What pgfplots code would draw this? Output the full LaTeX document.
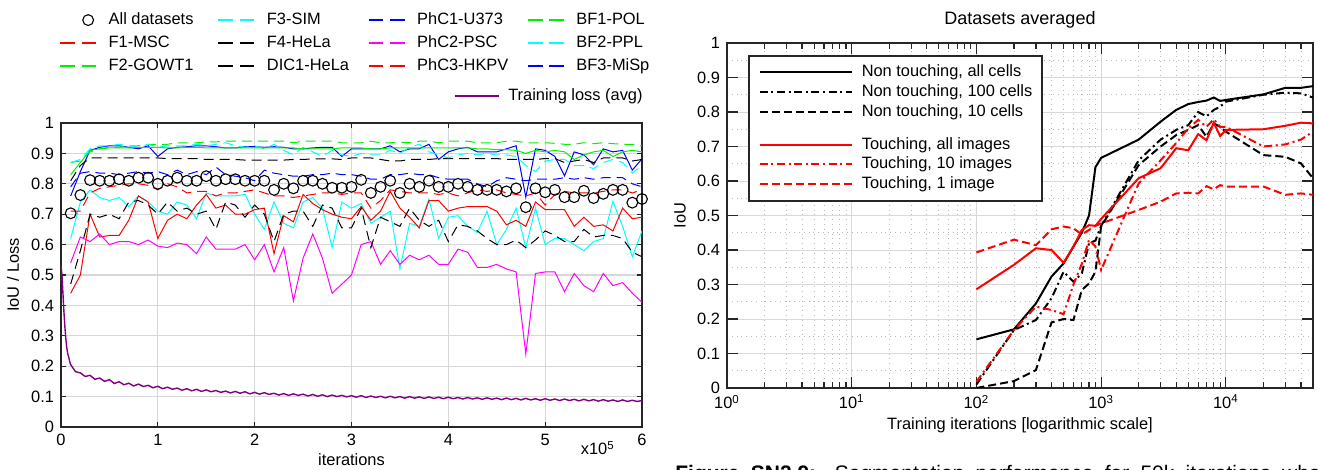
\documentclass[border=0pt]{standalone}
\usepackage{pgfplots}
\pgfplotsset{compat=1.18}
\usepackage{pgfplotstable}
\usepackage{fontspec}
\setmainfont{Liberation Sans}

\definecolor{axgray}{RGB}{38,38,38}
\definecolor{gridgray}{RGB}{215,215,215}
\definecolor{lossc}{RGB}{128,0,128}
\definecolor{mgreen}{RGB}{0,240,0}
\definecolor{mcyan}{RGB}{0,255,255}
\definecolor{mblue}{RGB}{0,0,255}
\definecolor{mmag}{RGB}{255,0,255}
\definecolor{mred}{RGB}{255,0,0}

\newcommand{\st}{\rule[-1.8pt]{0pt}{7.8pt}}
\newcommand{\lc}[2]{\st\makebox[#1][l]{#2}}

% IoU per dataset, x in units of 10^5 iterations
\pgfplotstableread{
x   all   f1    f2    f3    f4    dic1  phc1  phc2  phc3  bf1   bf2   bf3
0.1 0.703 0.44  0.83  0.62  0.81  0.47  0.76  0.54  0.71  0.87  0.87  0.79
0.2 0.763 0.50  0.87  0.74  0.86  0.58  0.84  0.625 0.71  0.875 0.88  0.835
0.3 0.812 0.70  0.91  0.78  0.885 0.70  0.91  0.61  0.77  0.905 0.915 0.84
0.4 0.81  0.625 0.915 0.755 0.885 0.69  0.92  0.635 0.785 0.915 0.925 0.835
0.5 0.81  0.63  0.918 0.745 0.885 0.70  0.925 0.60  0.79  0.92  0.925 0.835
0.6 0.815 0.63  0.918 0.755 0.885 0.685 0.925 0.61  0.795 0.92  0.93  0.83
0.7 0.81  0.68  0.918 0.725 0.885 0.74  0.92  0.61  0.80  0.925 0.925 0.835
0.8 0.82  0.76  0.92  0.76  0.885 0.745 0.915 0.60  0.80  0.925 0.92  0.84
0.9 0.82  0.74  0.92  0.74  0.885 0.73  0.925 0.615 0.795 0.93  0.93  0.835
1.0 0.80  0.62  0.92  0.71  0.885 0.70  0.89  0.595 0.78  0.93  0.92  0.84
1.1 0.81  0.68  0.918 0.70  0.883 0.74  0.915 0.59  0.80  0.93  0.925 0.83
1.2 0.82  0.70  0.918 0.74  0.883 0.71  0.92  0.605 0.79  0.935 0.925 0.845
1.3 0.81  0.685 0.92  0.73  0.883 0.72  0.922 0.60  0.77  0.935 0.925 0.83
1.4 0.81  0.73  0.92  0.685 0.883 0.70  0.925 0.57  0.775 0.935 0.93  0.84
1.5 0.825 0.765 0.918 0.77  0.88  0.71  0.925 0.625 0.775 0.938 0.925 0.83
1.6 0.81  0.72  0.918 0.76  0.88  0.65  0.922 0.585 0.76  0.938 0.93  0.855
1.7 0.815 0.73  0.918 0.76  0.88  0.74  0.918 0.585 0.77  0.94  0.935 0.83
1.8 0.815 0.70  0.918 0.76  0.88  0.73  0.918 0.585 0.77  0.94  0.925 0.825
1.9 0.81  0.70  0.918 0.765 0.878 0.69  0.922 0.60  0.775 0.94  0.92  0.82
2.0 0.81  0.715 0.918 0.70  0.878 0.73  0.922 0.55  0.78  0.94  0.925 0.81
2.1 0.81  0.72  0.918 0.65  0.878 0.70  0.92  0.60  0.77  0.94  0.915 0.845
2.2 0.78  0.57  0.918 0.74  0.878 0.61  0.922 0.51  0.76  0.94  0.93  0.835
2.3 0.80  0.695 0.918 0.67  0.878 0.70  0.92  0.59  0.76  0.94  0.91  0.83
2.4 0.785 0.675 0.918 0.655 0.88  0.71  0.915 0.415 0.755 0.935 0.895 0.825
2.5 0.81  0.765 0.915 0.74  0.88  0.71  0.915 0.555 0.76  0.94  0.92  0.825
2.6 0.81  0.735 0.915 0.755 0.882 0.66  0.918 0.635 0.765 0.94  0.905 0.83
2.7 0.80  0.715 0.915 0.72  0.882 0.73  0.92  0.555 0.77  0.94  0.89  0.83
2.8 0.787 0.70  0.915 0.59  0.882 0.72  0.92  0.44  0.77  0.94  0.91  0.835
2.9 0.787 0.69  0.918 0.74  0.88  0.655 0.89  0.47  0.765 0.935 0.895 0.83
3.0 0.79  0.685 0.918 0.72  0.885 0.655 0.915 0.50  0.77  0.935 0.89  0.83
3.1 0.813 0.725 0.918 0.735 0.885 0.72  0.915 0.60  0.77  0.935 0.90  0.825
3.2 0.77  0.68  0.915 0.67  0.885 0.59  0.915 0.61  0.72  0.94  0.895 0.815
3.3 0.79  0.71  0.915 0.69  0.88  0.69  0.915 0.535 0.745 0.935 0.895 0.815
3.4 0.81  0.775 0.918 0.71  0.875 0.675 0.925 0.58  0.78  0.935 0.91  0.83
3.5 0.77  0.72  0.918 0.52  0.875 0.66  0.905 0.535 0.775 0.937 0.90  0.83
3.6 0.80  0.69  0.918 0.67  0.88  0.72  0.915 0.565 0.77  0.935 0.92  0.835
3.7 0.79  0.655 0.918 0.66  0.88  0.68  0.915 0.55  0.77  0.94  0.93  0.83
3.8 0.81  0.745 0.918 0.75  0.88  0.66  0.93  0.565 0.77  0.94  0.905 0.83
3.9 0.79  0.745 0.918 0.62  0.883 0.68  0.88  0.535 0.765 0.935 0.895 0.82
4.0 0.79  0.71  0.918 0.69  0.883 0.61  0.905 0.535 0.77  0.94  0.885 0.815
4.1 0.80  0.72  0.918 0.695 0.883 0.665 0.915 0.585 0.76  0.94  0.895 0.815
4.2 0.79  0.725 0.918 0.66  0.883 0.66  0.92  0.575 0.77  0.94  0.90  0.815
4.3 0.78  0.725 0.915 0.64  0.883 0.645 0.905 0.525 0.78  0.935 0.895 0.80
4.4 0.78  0.725 0.915 0.71  0.883 0.62  0.905 0.525 0.775 0.935 0.90  0.79
4.5 0.78  0.71  0.912 0.60  0.883 0.60  0.905 0.535 0.78  0.935 0.895 0.81
4.6 0.775 0.665 0.912 0.65  0.88  0.60  0.915 0.52  0.77  0.94  0.895 0.82
4.7 0.785 0.68  0.91  0.72  0.88  0.615 0.925 0.51  0.765 0.94  0.89  0.815
4.8 0.723 0.66  0.90  0.59  0.88  0.59  0.756 0.24  0.76  0.935 0.86  0.81
4.9 0.785 0.74  0.91  0.72  0.88  0.615 0.915 0.505 0.77  0.935 0.84  0.815
5.0 0.772 0.715 0.905 0.60  0.883 0.645 0.91  0.51  0.73  0.935 0.875 0.815
5.1 0.78  0.715 0.91  0.62  0.883 0.63  0.89  0.51  0.765 0.933 0.88  0.815
5.2 0.756 0.715 0.905 0.62  0.87  0.61  0.826 0.445 0.775 0.93  0.88  0.82
5.3 0.756 0.66  0.88  0.60  0.875 0.61  0.905 0.505 0.77  0.93  0.86  0.815
5.4 0.777 0.69  0.895 0.58  0.88  0.65  0.895 0.465 0.77  0.935 0.86  0.82
5.5 0.753 0.66  0.905 0.61  0.87  0.625 0.863 0.445 0.77  0.932 0.85  0.815
5.6 0.767 0.665 0.91  0.62  0.885 0.63  0.915 0.505 0.775 0.935 0.87  0.82
5.7 0.78  0.645 0.89  0.742 0.885 0.63  0.905 0.465 0.78  0.932 0.88  0.82
5.8 0.78  0.72  0.905 0.66  0.885 0.62  0.91  0.475 0.78  0.93  0.87  0.82
5.9 0.738 0.685 0.91  0.56  0.875 0.575 0.845 0.44  0.77  0.93  0.835 0.80
6.0 0.75  0.69  0.905 0.645 0.88  0.56  0.882 0.41  0.78  0.925 0.86  0.79
}\iouT

\pgfplotstableread{
x    y
0.00 0.530
0.01 0.500
0.02 0.440
0.03 0.380
0.04 0.330
0.05 0.290
0.06 0.260
0.07 0.240
0.08 0.230
0.09 0.215
0.10 0.205
0.15 0.182
0.20 0.178
0.25 0.166
0.30 0.170
0.35 0.157
0.40 0.161
0.45 0.150
0.50 0.156
0.55 0.143
0.60 0.149
0.65 0.139
0.70 0.144
0.75 0.135
0.80 0.141
0.85 0.133
0.90 0.137
0.95 0.129
1.00 0.134
1.05 0.126
1.10 0.131
1.15 0.124
1.20 0.128
1.25 0.121
1.30 0.126
1.35 0.119
1.40 0.124
1.45 0.117
1.50 0.122
1.55 0.116
1.60 0.120
1.65 0.114
1.70 0.118
1.75 0.112
1.80 0.117
1.85 0.111
1.90 0.116
1.95 0.109
2.00 0.114
2.05 0.108
2.10 0.113
2.15 0.107
2.20 0.111
2.25 0.105
2.30 0.110
2.35 0.104
2.40 0.109
2.45 0.104
2.50 0.108
2.55 0.102
2.60 0.107
2.65 0.101
2.70 0.106
2.75 0.100
2.80 0.105
2.85 0.100
2.90 0.104
2.95 0.099
3.00 0.103
3.05 0.098
3.10 0.103
3.15 0.097
3.20 0.102
3.25 0.097
3.30 0.101
3.35 0.096
3.40 0.101
3.45 0.096
3.50 0.100
3.55 0.095
3.60 0.100
3.65 0.095
3.70 0.099
3.75 0.094
3.80 0.099
3.85 0.094
3.90 0.098
3.95 0.093
4.00 0.098
4.05 0.093
4.10 0.097
4.15 0.092
4.20 0.097
4.25 0.092
4.30 0.096
4.35 0.091
4.40 0.096
4.45 0.091
4.50 0.095
4.55 0.090
4.60 0.095
4.65 0.090
4.70 0.094
4.75 0.089
4.80 0.094
4.85 0.089
4.90 0.093
4.95 0.088
5.00 0.093
5.05 0.088
5.10 0.092
5.15 0.087
5.20 0.092
5.25 0.087
5.30 0.091
5.35 0.086
5.40 0.091
5.45 0.086
5.50 0.090
5.55 0.085
5.60 0.090
5.65 0.085
5.70 0.089
5.75 0.084
5.80 0.089
5.85 0.084
5.90 0.088
5.95 0.084
6.00 0.087
}\lossT

\pgfplotstableread{
it    nta   nt100 nt10  ta    t10   t1
100   0.141 0.010 0.000 0.286 0.018 0.393
200   0.170 0.168 0.020 0.357 0.168 0.430
300   0.245 0.197 0.052 0.405 0.236 0.414
400   0.323 0.260 0.190 0.400 0.226 0.460
500   0.361 0.337 0.200 0.363 0.214 0.468
600   0.410 0.308 0.197 0.410 0.300 0.463
700   0.450 0.332 0.284 0.458 0.360 0.445
800   0.500 0.420 0.303 0.472 0.430 0.458
900   0.640 0.427 0.337 0.470 0.410 0.470
1000  0.667 0.470 0.468 0.490 0.342 0.477
2000  0.720 0.660 0.646 0.608 0.593 0.516
3000  0.772 0.720 0.700 0.637 0.660 0.540
4000  0.806 0.748 0.733 0.695 0.710 0.564
5000  0.823 0.762 0.748 0.689 0.753 0.566
6000  0.829 0.800 0.762 0.736 0.777 0.564
7000  0.833 0.787 0.728 0.718 0.757 0.585
8000  0.842 0.806 0.767 0.769 0.779 0.576
9000  0.832 0.815 0.757 0.730 0.757 0.588
10000 0.835 0.830 0.743 0.748 0.757 0.584
20000 0.851 0.850 0.675 0.750 0.700 0.584
30000 0.870 0.856 0.670 0.760 0.706 0.560
40000 0.870 0.854 0.651 0.769 0.720 0.564
50000 0.875 0.842 0.608 0.767 0.743 0.560
}\avgT

\pgfplotsset{
  mat/.style={
    scale only axis,
    axis line style={axgray, line width=0.8pt},
    tick style={axgray, line width=0.6pt},
    tick align=inside, tick pos=both,
    ticklabel style={font=\fontsize{8.2}{9.5}\selectfont},
    label style={font=\fontsize{8.2}{9.5}\selectfont},
    /pgf/number format/assume math mode=true,
    scaled ticks=false,
    ymin=0, ymax=1,
    ytick={0,0.1,0.2,0.3,0.4,0.5,0.6,0.7,0.8,0.9,1},
    legend cell align=left,
  },
  dashleg/.style={legend image code/.code={\draw[##1,line width=0.75pt,dash pattern=on 7.3pt off 3.4pt] (0pt,0pt) -- (18pt,0pt); \path (24pt,0pt);}},
  circleleg/.style={legend image code/.code={\draw[##1] plot coordinates {(14pt,0pt)}; \path (0pt,0pt) (24pt,0pt);}},
  lossleg/.style={legend image code/.code={\draw[##1] (0pt,0pt) -- (22pt,0pt); \path (26.5pt,0pt);}},
  longleg/.style={legend image code/.code={\draw[##1] (0pt,0pt) -- (46pt,0pt); \path (50.5pt,0pt);}},
  ls/.style={line width=0.5pt},
  ld/.style={line width=0.5pt, dash pattern=on 5pt off 3pt},
}

\begin{document}
\begin{tikzpicture}[x=1pt,y=1pt]
\path[use as bounding box, clip] (0,0) rectangle (659,235);

% left panel
\begin{axis}[mat, at={(30.5pt,21.5pt)}, anchor=south west,
  width=290.5pt, height=152pt,
  xmin=0, xmax=6, xtick={0,1,2,3,4,5,6},
  major tick length=2.5pt,
  grid=major, major grid style={gridgray, line width=0.6pt},
  xlabel={iterations}, ylabel={IoU / Loss},
  xlabel style={at={(axis description cs:0.5,-0.1086)}, anchor=center},
  ylabel style={at={(axis description cs:-0.0826,0.5)}, anchor=center},
  dashleg, legend columns=4,
  legend style={draw=none, fill=none, inner sep=0pt, nodes={inner sep=0pt},
    column sep=0pt, row sep=3.95pt, at={(-0.0034,1.3645)}, anchor=north west,
    font=\fontsize{8.2}{9.5}\selectfont},
  after end axis/.code={\node[font=\fontsize{8.2}{9.5}\selectfont] at (axis description cs:0.924,-0.069) {x10\textsuperscript{5}};},
]
\addplot[circleleg, only marks, mark=o, mark size=2.7pt, black, line width=0.55pt] table[x=x,y=all] {\iouT};
\addlegendentry{\lc{54.5pt}{All datasets}}
\addplot[mcyan, ls] table[x=x,y=f3] {\iouT};
\addlegendentry{\lc{50.5pt}{F3-SIM}}
\addplot[mblue, ls] table[x=x,y=phc1] {\iouT};
\addlegendentry{\lc{55pt}{PhC1-U373}}
\addplot[mgreen, ld] table[x=x,y=bf1] {\iouT};
\addlegendentry{\lc{40pt}{BF1-POL}}
\addplot[mred, ls] table[x=x,y=f1] {\iouT};
\addlegendentry{\lc{54.5pt}{F1-MSC}}
\addplot[black, ld] table[x=x,y=f4] {\iouT};
\addlegendentry{\lc{50.5pt}{F4-HeLa}}
\addplot[mmag, ls] table[x=x,y=phc2] {\iouT};
\addlegendentry{\lc{55pt}{PhC2-PSC}}
\addplot[mcyan, ld] table[x=x,y=bf2] {\iouT};
\addlegendentry{\lc{40pt}{BF2-PPL}}
\addplot[mgreen, ls] table[x=x,y=f2] {\iouT};
\addlegendentry{\lc{54.5pt}{F2-GOWT1}}
\addplot[black, ld] table[x=x,y=dic1] {\iouT};
\addlegendentry{\lc{50.5pt}{DIC1-HeLa}}
\addplot[mred, ld] table[x=x,y=phc3] {\iouT};
\addlegendentry{\lc{55pt}{PhC3-HKPV}}
\addplot[mblue, ld] table[x=x,y=bf3] {\iouT};
\addlegendentry{\lc{40pt}{BF3-MiSp}}
\end{axis}

% training loss, same frame
\begin{axis}[mat, at={(30.5pt,21.5pt)}, anchor=south west,
  width=290.5pt, height=152pt, xmin=0, xmax=6, hide axis,
  lossleg,
  legend style={draw=none, fill=none, inner sep=0pt, nodes={inner sep=0pt},
    at={(1.0017,1.1145)}, anchor=north east, font=\fontsize{8.2}{9.5}\selectfont},
]
\addplot[lossc, line width=0.7pt] table {\lossT};
\addlegendentry{\st Training loss (avg)}
\end{axis}

% right panel
\begin{axis}[mat, at={(363.5pt,41pt)}, anchor=south west,
  width=293pt, height=172.5pt,
  xmode=log, xmin=1, xmax=50000,
  xtick={1,10,100,1000,10000},
  xticklabels={10\textsuperscript{0},10\textsuperscript{1},10\textsuperscript{2},10\textsuperscript{3},10\textsuperscript{4}},
  minor xtick={2,3,4,5,6,7,8,9,20,30,40,50,60,70,80,90,200,300,400,500,600,700,800,900,2000,3000,4000,5000,6000,7000,8000,9000,20000,30000,40000},
  minor ytick={0.05,0.15,0.25,0.35,0.45,0.55,0.65,0.75,0.85,0.95},
  minor y tick style={draw=none},
  major tick length=5.5pt, minor tick length=3pt,
  grid=both, major grid style={gray!30, line width=0.4pt},
  minor grid style={gray!55, line width=0.4pt, dotted},
  xlabel={Training iterations [logarithmic scale]}, ylabel={IoU},
  xlabel style={at={(axis description cs:0.5,-0.107)}, anchor=center},
  ylabel style={at={(axis description cs:-0.080,0.5)}, anchor=center},
  after end axis/.code={\node[font=\fontsize{9}{10}\selectfont] at (axis description cs:0.5,1.0667) {Datasets averaged};},
  longleg,
  legend style={draw=axgray, line width=0.8pt, fill=white, inner xsep=5pt, inner ysep=4.5pt,
    nodes={inner sep=0pt}, row sep=2.45pt, at={(0.0358,0.965)}, anchor=north west,
    font=\fontsize{8.2}{9.5}\selectfont},
]
\addplot[black, line width=1pt] table[x=it,y=nta] {\avgT};
\addlegendentry{\st Non touching, all cells}
\addplot[black, line width=1pt, dash pattern=on 4pt off 1.8pt on 1pt off 1.8pt] table[x=it,y=nt100] {\avgT};
\addlegendentry{\st Non touching, 100 cells}
\addplot[black, line width=1pt, dash pattern=on 4pt off 2pt] table[x=it,y=nt10] {\avgT};
\addlegendentry{\st Non touching, 10 cells}
\addlegendimage{empty legend}
\addlegendentry{\rule{0pt}{2.3pt}}
\addplot[mred, line width=1pt] table[x=it,y=ta] {\avgT};
\addlegendentry{\st Touching, all images}
\addplot[mred, line width=1pt, dash pattern=on 4pt off 1.8pt on 1pt off 1.8pt] table[x=it,y=t10] {\avgT};
\addlegendentry{\st Touching, 10 images}
\addplot[mred, line width=1pt, dash pattern=on 4pt off 2pt] table[x=it,y=t1] {\avgT};
\addlegendentry{\st Touching, 1 image}
\end{axis}

% caption, cut at the lower edge as in the reference
\node[anchor=base west, inner sep=0pt, font=\fontsize{10.5}{12}\selectfont] at (337.5,-5.5)
  {\makebox[328.5pt][s]{\textbf{Figure SN2.9:} Segmentation performance for 50k iterations when}};
\end{tikzpicture}
\end{document}
